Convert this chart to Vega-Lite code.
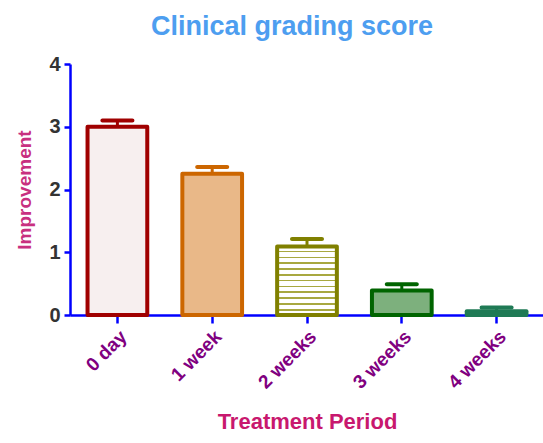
{
  "$schema": "https://vega.github.io/schema/vega-lite/v6.json",
  "autosize": "none",
  "width": 474,
  "height": 251,
  "padding": {"left": 70, "top": 64, "right": 0, "bottom": 128},
  "background": "white",
  "config": {"view": {"stroke": null}, "font": "Liberation Sans"},
  "title": {
    "text": "Clinical grading score",
    "fontSize": 27,
    "fontWeight": "bold",
    "color": "#4D9EF0",
    "font": "Liberation Sans",
    "offset": 13,
    "dx": -15
  },
  "data": {
    "values": [
      {"period": "0 day", "value": 3.0, "upper": 3.1},
      {"period": "1 week", "value": 2.25, "upper": 2.36},
      {"period": "2 weeks", "value": 1.09, "upper": 1.21},
      {"period": "3 weeks", "value": 0.39, "upper": 0.49},
      {"period": "4 weeks", "value": 0.06, "upper": 0.12}
    ]
  },
  "encoding": {
    "x": {
      "field": "period",
      "type": "nominal",
      "sort": null,
      "scale": {"paddingInner": 0.37, "paddingOuter": 0.185},
      "axis": {
        "title": "Treatment Period",
        "titleFontSize": 22,
        "titleFontWeight": "bold",
        "titleColor": "#C8186E",
        "titlePadding": 20,
        "labelAngle": -45,
        "labelFontSize": 19,
        "labelFontWeight": "bold",
        "labelColor": "#800080",
        "labelPadding": 4,
        "domainColor": "#0000FF",
        "domainWidth": 2.5,
        "tickColor": "#0000FF",
        "tickWidth": 2.5,
        "tickSize": 8
      }
    }
  },
  "layer": [
    {
      "mark": {"type": "bar", "strokeWidth": 4, "strokeJoin": "round"},
      "encoding": {
        "y": {
          "field": "value",
          "type": "quantitative",
          "scale": {"domain": [0, 4]},
          "axis": {
            "title": "Improvement",
            "titleFontSize": 19,
            "titleFontWeight": "bold",
            "titleColor": "#C8307F",
            "titlePadding": 14,
            "values": [0, 1, 2, 3, 4],
            "format": "d",
            "labelFontSize": 20,
            "labelFontWeight": "bold",
            "labelColor": "#333333",
            "labelPadding": 4,
            "domainColor": "#0000FF",
            "domainWidth": 2.5,
            "tickColor": "#0000FF",
            "tickWidth": 2.5,
            "tickSize": 6,
            "grid": false
          }
        },
        "stroke": {
          "field": "period",
          "type": "nominal",
          "sort": null,
          "scale": {"range": ["#A00000", "#CC6600", "#808000", "#006400", "#1F7A55"]},
          "legend": null
        },
        "fill": {
          "condition": [
            {"test": "datum.period === '0 day'", "value": "#F7EFEF"},
            {"test": "datum.period === '1 week'", "value": "#E9B888"},
            {"test": "datum.period === '2 weeks'", "value": {
              "gradient": "linear", "x1": 0, "y1": 0, "x2": 0, "y2": 1,
              "stops": [
                {"offset": 0.0, "color": "#FFFFFF"},
                {"offset": 0.06, "color": "#FFFFFF"}, {"offset": 0.06, "color": "#A8A840"}, {"offset": 0.085, "color": "#A8A840"}, {"offset": 0.085, "color": "#FFFFFF"},
                {"offset": 0.145, "color": "#FFFFFF"}, {"offset": 0.145, "color": "#A8A840"}, {"offset": 0.17, "color": "#A8A840"}, {"offset": 0.17, "color": "#FFFFFF"},
                {"offset": 0.23, "color": "#FFFFFF"}, {"offset": 0.23, "color": "#A8A840"}, {"offset": 0.255, "color": "#A8A840"}, {"offset": 0.255, "color": "#FFFFFF"},
                {"offset": 0.315, "color": "#FFFFFF"}, {"offset": 0.315, "color": "#A8A840"}, {"offset": 0.34, "color": "#A8A840"}, {"offset": 0.34, "color": "#FFFFFF"},
                {"offset": 0.4, "color": "#FFFFFF"}, {"offset": 0.4, "color": "#A8A840"}, {"offset": 0.425, "color": "#A8A840"}, {"offset": 0.425, "color": "#FFFFFF"},
                {"offset": 0.485, "color": "#FFFFFF"}, {"offset": 0.485, "color": "#A8A840"}, {"offset": 0.51, "color": "#A8A840"}, {"offset": 0.51, "color": "#FFFFFF"},
                {"offset": 0.57, "color": "#FFFFFF"}, {"offset": 0.57, "color": "#A8A840"}, {"offset": 0.595, "color": "#A8A840"}, {"offset": 0.595, "color": "#FFFFFF"},
                {"offset": 0.655, "color": "#FFFFFF"}, {"offset": 0.655, "color": "#A8A840"}, {"offset": 0.68, "color": "#A8A840"}, {"offset": 0.68, "color": "#FFFFFF"},
                {"offset": 0.74, "color": "#FFFFFF"}, {"offset": 0.74, "color": "#A8A840"}, {"offset": 0.765, "color": "#A8A840"}, {"offset": 0.765, "color": "#FFFFFF"},
                {"offset": 0.825, "color": "#FFFFFF"}, {"offset": 0.825, "color": "#A8A840"}, {"offset": 0.85, "color": "#A8A840"}, {"offset": 0.85, "color": "#FFFFFF"},
                {"offset": 0.91, "color": "#FFFFFF"}, {"offset": 0.91, "color": "#A8A840"}, {"offset": 0.935, "color": "#A8A840"}, {"offset": 0.935, "color": "#FFFFFF"},
                {"offset": 1.0, "color": "#FFFFFF"}
              ]
            }},
            {"test": "datum.period === '3 weeks'", "value": "#7DB07D"}
          ],
          "value": "#8FC0AE"
        }
      }
    },
    {
      "mark": {"type": "rule", "strokeWidth": 3, "opacity": 1},
      "encoding": {
        "y": {"field": "value", "type": "quantitative"},
        "y2": {"field": "upper"},
        "color": {
          "field": "period",
          "type": "nominal",
          "sort": null,
          "scale": {"range": ["#A00000", "#CC6600", "#808000", "#006400", "#1F7A55"]},
          "legend": null
        }
      }
    },
    {
      "mark": {"type": "tick", "thickness": 4, "size": 34, "cornerRadius": 2, "opacity": 1},
      "encoding": {
        "y": {"field": "upper", "type": "quantitative"},
        "color": {
          "field": "period",
          "type": "nominal",
          "sort": null,
          "scale": {"range": ["#A00000", "#CC6600", "#808000", "#006400", "#1F7A55"]},
          "legend": null
        }
      }
    }
  ]
}
